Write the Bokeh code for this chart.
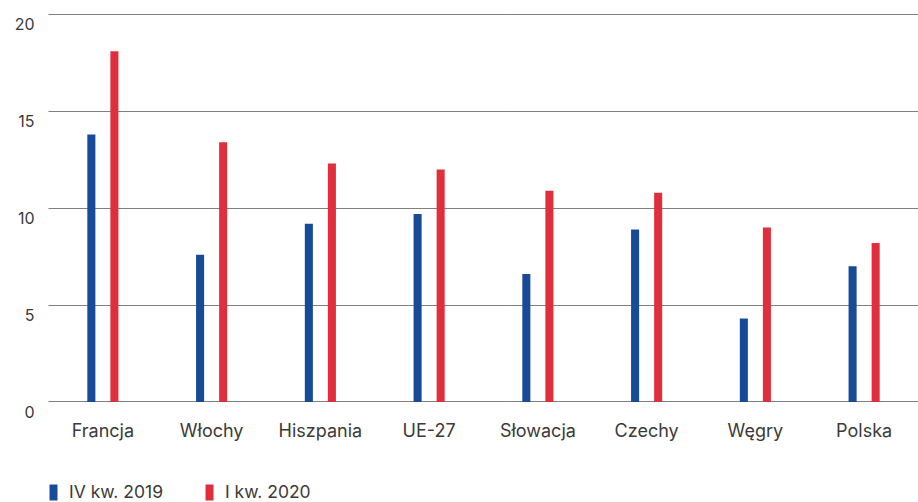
from bokeh.plotting import figure
from bokeh.layouts import column
from bokeh.models import ColumnDataSource, Range1d, Legend, LegendItem, FixedTicker, LinearAxis
from bokeh.transform import dodge
from bokeh.embed import file_html
from bokeh.resources import INLINE

categories = ["Francja", "Włochy", "Hiszpania", "UE-27", "Słowacja", "Czechy", "Węgry", "Polska"]
q4_2019 = [13.8, 7.6, 9.2, 9.7, 6.6, 8.9, 4.3, 7.0]
q1_2020 = [18.1, 13.4, 12.3, 12.0, 10.9, 10.8, 9.0, 8.2]
series_names = ["IV kw. 2019", "I kw. 2020"]
y_ticks = [0, 5, 10, 15, 20]

BLUE = "#174a97"
RED = "#e02e3c"
TEXT = "#3a3a3a"
FONT = "Inter"

src = ColumnDataSource(dict(cat=categories, a=q4_2019, b=q1_2020))

Y0, Y1 = -0.6, 20.2
SHIFT = 0.5  # tick labels sit slightly below their grid lines

p = figure(x_range=categories, y_range=Range1d(Y0, Y1), width=918, height=445,
           output_backend="svg", toolbar_location=None,
           min_border_left=48, min_border_right=0, min_border_top=10, min_border_bottom=32)
p.outline_line_color = None
p.background_fill_color = "white"
p.border_fill_color = "white"
p.extra_y_ranges = {"lab": Range1d(Y0 + SHIFT, Y1 + SHIFT)}

r1 = p.vbar(x=dodge("cat", -0.106, range=p.x_range), top="a", width=0.074, source=src,
            fill_color=BLUE, line_color=None)
r2 = p.vbar(x=dodge("cat", 0.106, range=p.x_range), top="b", width=0.074, source=src,
            fill_color=RED, line_color=None)

p.xgrid.grid_line_color = None
p.ygrid.ticker = FixedTicker(ticks=y_ticks)
p.ygrid.grid_line_color = "#000000"
p.ygrid.grid_line_dash = "1 1"
p.ygrid.grid_line_width = 1
p.yaxis[0].visible = False

lab_axis = LinearAxis(y_range_name="lab", ticker=FixedTicker(ticks=y_ticks))
p.add_layout(lab_axis, "left")

for ax in (p.xaxis[0], lab_axis):
    ax.axis_line_color = None
    ax.major_tick_line_color = None
    ax.minor_tick_line_color = None
    ax.major_label_text_font = FONT
    ax.major_label_text_color = TEXT

lab_axis.major_label_text_font_size = "16px"
lab_axis.major_label_standoff = 8
p.xaxis.major_label_text_font_size = "18px"
p.xaxis.major_label_standoff = 0

# legend strip below the chart
p2 = figure(width=918, height=57, x_range=Range1d(0, 1), y_range=Range1d(0, 1),
            output_backend="svg", toolbar_location=None,
            min_border_left=0, min_border_right=0, min_border_top=0, min_border_bottom=0)
p2.axis.visible = False
p2.grid.visible = False
p2.outline_line_color = None
d1 = p2.vbar(x=[5], top=[5], width=0.1, fill_color=BLUE, line_color=None)
d2 = p2.vbar(x=[5], top=[5], width=0.1, fill_color=RED, line_color=None)

legend = Legend(items=[LegendItem(label=series_names[0], renderers=[d1]),
                       LegendItem(label=series_names[1], renderers=[d2])],
                orientation="horizontal", location=(0, 0),
                glyph_width=10, glyph_height=20, label_standoff=11, spacing=41,
                padding=0, margin=0, border_line_color=None, background_fill_alpha=0,
                label_text_font=FONT, label_text_font_size="17.5px", label_text_color=TEXT)
p2.add_layout(legend, "center")

layout = column(p, p2, spacing=0)
open("out.html", "w").write(file_html(layout, INLINE))
